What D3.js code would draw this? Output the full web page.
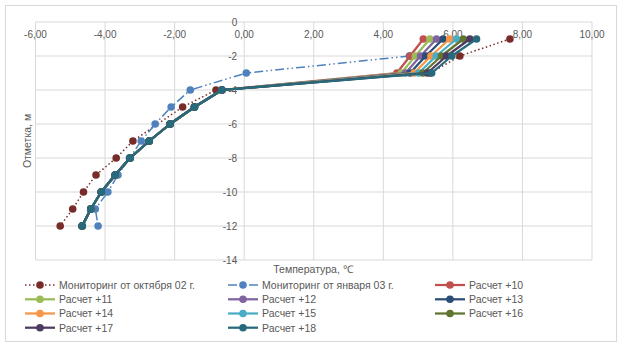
<!DOCTYPE html>
<html>
<head>
<meta charset="utf-8">
<script src="https://cdn.jsdelivr.net/npm/d3@7"></script>
<style>
  body { margin: 0; background: #fff; }
  svg text { font-family: "Liberation Sans", Arial, sans-serif; fill: #595959; }
</style>
</head>
<body>
<div id="chart"></div>
<script>
// depths, m
const depths = [-1, -2, -3, -4, -5, -6, -7, -8, -9, -10, -11, -12];
const octDepths = [-1, -2, -3, -4, -5, -7, -8, -9, -10, -11, -12];
const janDepths = [-2, -3, -4, -5, -6, -7, -8, -9, -10, -11, -12];

// temperatures, °C
const octTemps = [7.64, 6.2, 5.35, -0.81, -1.77, -3.2, -3.68, -4.26, -4.62, -4.93, -5.29];
const janTemps = [4.75, 0.06, -1.55, -2.1, -2.56, -2.96, -3.3, -3.63, -3.92, -4.28, -4.2];
const calc10 = [5.15, 4.77, 4.39, -0.64, -1.43, -2.13, -2.73, -3.28, -3.71, -4.11, -4.41, -4.66];
const calc11 = [5.34, 4.92, 4.52, -0.64, -1.43, -2.13, -2.73, -3.28, -3.71, -4.11, -4.41, -4.66];
const calc12 = [5.53, 5.07, 4.64, -0.64, -1.43, -2.13, -2.73, -3.28, -3.71, -4.11, -4.41, -4.66];
const calc13 = [5.72, 5.22, 4.77, -0.64, -1.43, -2.13, -2.73, -3.28, -3.71, -4.11, -4.41, -4.66];
const calc14 = [5.91, 5.37, 4.89, -0.64, -1.43, -2.13, -2.73, -3.28, -3.71, -4.11, -4.41, -4.66];
const calc15 = [6.10, 5.52, 5.02, -0.64, -1.43, -2.13, -2.73, -3.28, -3.71, -4.11, -4.41, -4.66];
const calc16 = [6.30, 5.67, 5.14, -0.64, -1.43, -2.13, -2.73, -3.28, -3.71, -4.11, -4.41, -4.66];
const calc17 = [6.49, 5.82, 5.27, -0.64, -1.43, -2.13, -2.73, -3.28, -3.71, -4.11, -4.41, -4.66];
const calc18 = [6.68, 5.97, 5.39, -0.64, -1.43, -2.13, -2.73, -3.28, -3.71, -4.11, -4.41, -4.66];

const xTicks = [-6, -4, -2, 0, 2, 4, 6, 8, 10];
const yTicks = [0, -2, -4, -6, -8, -10, -12, -14];

const series = [
  {name: "Мониторинг от октября 02 г.", color: "#772C2A", dash: "1.5,2.5", width: 1.5, d: octDepths, t: octTemps},
  {name: "Мониторинг от января 03 г.", color: "#4F81BD", dash: "9,3,1.5,3,1.5,3", width: 1.5, d: janDepths, t: janTemps},
  {name: "Расчет +10", color: "#C0504D", d: depths, t: calc10},
  {name: "Расчет +11", color: "#9BBB59", d: depths, t: calc11},
  {name: "Расчет +12", color: "#8064A2", d: depths, t: calc12},
  {name: "Расчет +13", color: "#2C4D75", d: depths, t: calc13},
  {name: "Расчет +14", color: "#F79646", d: depths, t: calc14},
  {name: "Расчет +15", color: "#4BACC6", d: depths, t: calc15},
  {name: "Расчет +16", color: "#5F7530", d: depths, t: calc16},
  {name: "Расчет +17", color: "#4D3B62", d: depths, t: calc17},
  {name: "Расчет +18", color: "#276A7C", d: depths, t: calc18}
];

const W = 624, H = 349;
const svg = d3.select("#chart").append("svg")
    .attr("width", W)
    .attr("height", H);

svg.append("rect")
    .attr("x", 5.5).attr("y", 5.5)
    .attr("width", 611).attr("height", 336)
    .attr("fill", "#fff")
    .attr("stroke", "#d9d9d9");

const x = d3.scaleLinear().domain([-6, 10]).range([35.5, 592]);
const y = d3.scaleLinear().domain([0, -14]).range([22, 260]);

// gridlines
svg.append("g").selectAll("line.v")
    .data(xTicks).enter().append("line")
    .attr("x1", d => x(d)).attr("x2", d => x(d))
    .attr("y1", y(0)).attr("y2", y(-14))
    .attr("stroke", "#d9d9d9");
svg.append("g").selectAll("line.h")
    .data(yTicks).enter().append("line")
    .attr("x1", x(-6)).attr("x2", x(10))
    .attr("y1", d => y(d)).attr("y2", d => y(d))
    .attr("stroke", "#d9d9d9");

// tick labels
svg.append("g").selectAll("text")
    .data(xTicks).enter().append("text")
    .attr("x", d => x(d))
    .attr("y", y(0) + 16)
    .attr("text-anchor", "middle")
    .attr("font-size", "10px")
    .text(d => d.toFixed(2).replace(".", ","));
svg.append("g").selectAll("text")
    .data(yTicks).enter().append("text")
    .attr("x", x(0) - 7)
    .attr("y", d => y(d) + 3.5)
    .attr("text-anchor", "end")
    .attr("font-size", "10px")
    .text(d => String(d));

// axis titles
svg.append("text")
    .attr("x", 313).attr("y", 273)
    .attr("text-anchor", "middle")
    .attr("font-size", "10.5px")
    .text("Температура, ℃");
svg.append("text")
    .attr("transform", "translate(31,141) rotate(-90)")
    .attr("text-anchor", "middle")
    .attr("font-size", "10.5px")
    .text("Отметка, м");

const line = d3.line().x(d => x(d[1])).y(d => y(d[0]));

series.forEach(s => {
    const pts = s.d.map((dd, i) => [dd, s.t[i]]);
    const g = svg.append("g");
    g.append("path")
        .datum(pts)
        .attr("d", line)
        .attr("fill", "none")
        .attr("stroke", s.color)
        .attr("stroke-width", s.width || 2.25)
        .attr("stroke-dasharray", s.dash || null)
        .attr("stroke-linejoin", "round");
    g.selectAll("circle")
        .data(pts).enter().append("circle")
        .attr("cx", d => x(d[1]))
        .attr("cy", d => y(d[0]))
        .attr("r", 3.8)
        .attr("fill", s.color);
});

// legend
const colX = [25, 228, 435];
const rowY = [285, 299.3, 313.5, 327.7];
const legend = svg.append("g").selectAll("g")
    .data(series).enter().append("g")
    .attr("transform", (d, i) => `translate(${colX[i % 3]},${rowY[Math.floor(i / 3)]})`);
legend.append("line")
    .attr("x1", 0).attr("x2", 30)
    .attr("stroke", d => d.color)
    .attr("stroke-width", d => d.width || 2.25)
    .attr("stroke-dasharray", d => d.dash || null);
legend.append("circle")
    .attr("cx", 15).attr("r", 3.8)
    .attr("fill", d => d.color);
legend.append("text")
    .attr("x", 34).attr("y", 3.8)
    .attr("font-size", "10.5px")
    .text(d => d.name);
</script>
</body>
</html>
